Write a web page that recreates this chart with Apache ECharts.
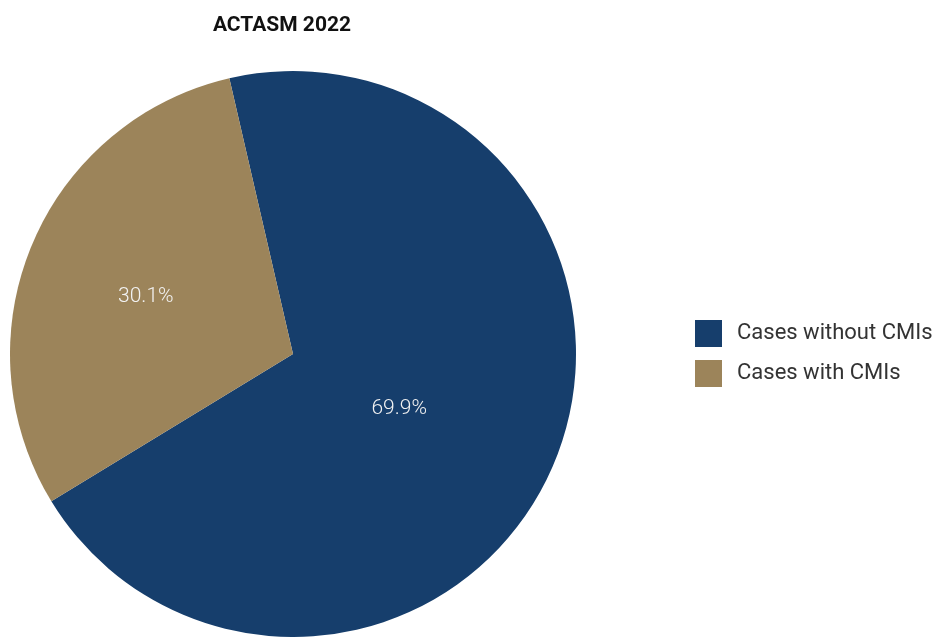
<!DOCTYPE html>
<html>
<head>
<meta charset="utf-8">
<script src="https://cdn.jsdelivr.net/npm/echarts@6/dist/echarts.min.js"></script>
<style>
  html, body { margin: 0; padding: 0; background: #ffffff; }
  #chart { width: 937px; height: 637px; }
</style>
</head>
<body>
<div id="chart"></div>
<script>
// Share of cases with and without CMIs
const categories = ['Cases without CMIs', 'Cases with CMIs'];
const shares = [69.9, 30.1];
const colors = ['#163e6c', '#9c845a'];
const labelOffsets = [[-27, -1], [-14, -1]];

const chart = echarts.init(document.getElementById('chart'), null, { renderer: 'canvas' });
const font = 'Roboto, "Noto Sans", sans-serif';

chart.setOption({
  animation: false,
  title: {
    text: 'ACTASM 2022',
    left: 277,
    top: 10,
    textAlign: 'center',
    textStyle: { fontFamily: font, fontWeight: 'bold', fontSize: 21, color: '#111' }
  },
  legend: {
    orient: 'vertical',
    left: 690,
    top: 315,
    itemWidth: 27,
    itemHeight: 27,
    itemGap: 13,
    icon: 'rect',
    textStyle: { fontFamily: font, fontSize: 22, color: '#333', padding: [0, 0, 0, 10] },
    data: categories
  },
  series: [{
    type: 'pie',
    center: [293, 354],
    radius: [0, 283],
    startAngle: 103,
    clockwise: true,
    label: {
      position: 'inside',
      formatter: p => p.value.toFixed(1) + '%',
      fontFamily: font,
      fontWeight: 300,
      fontSize: 21,
      color: '#f2f2f2'
    },
    labelLine: { show: false },
    itemStyle: { borderWidth: 0 },
    emphasis: { disabled: true },
    data: categories.map((name, i) => ({
      name,
      value: shares[i],
      itemStyle: { color: colors[i] },
      label: { offset: labelOffsets[i] }
    }))
  }]
});
</script>
</body>
</html>
